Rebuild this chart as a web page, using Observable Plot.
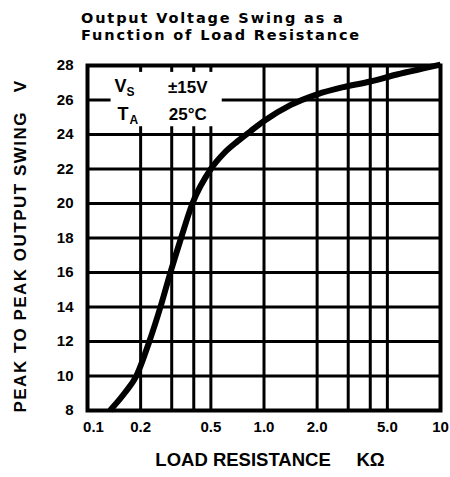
<!DOCTYPE html>
<html>
<head>
<meta charset="utf-8">
<script src="https://cdn.jsdelivr.net/npm/d3@7"></script>
<script src="https://cdn.jsdelivr.net/npm/@observablehq/plot@0.6"></script>
<style>
  html, body { margin: 0; padding: 0; background: #fff; width: 450px; height: 477px; overflow: hidden; }
  #title { height: 45px; box-sizing: border-box; padding: 10px 0 0 81px; font-family: "DejaVu Sans", sans-serif; font-weight: bold; font-size: 14.5px; line-height: 16.8px; color: #000; letter-spacing: 1.85px; white-space: nowrap; }
  #chart svg text { white-space: pre; }
  #chart svg text[transform*="rotate"] { letter-spacing: 1.5px; }
</style>
</head>
<body>
<div id="title">Output Voltage Swing as a<br>Function of Load Resistance</div>
<div id="chart"></div>
<script>
// Curve: load resistance (kΩ) vs peak-to-peak output swing (V)
const loadResistance = [0.134, 0.162, 0.189, 0.224, 0.259, 0.295, 0.339, 0.393, 0.5, 0.595, 0.707, 0.841, 1.0,   1.41, 2.0,   2.83,  4.0,   5.66,  8.0,   10];
const outputSwing    = [8,     9,     10,    12,    14,    16,    18,    20,    22,  22.93, 23.6,  24.2,  24.78, 25.7, 26.33, 26.75, 27.07, 27.48, 27.83, 28.05];

// Axes / grid
const xTickValues = [0.1, 0.2, 0.5, 1, 2, 5, 10];
const xTickLabels = ["0.1", "0.2", "0.5", "1.0", "2.0", "5.0", "10"];
const xGridValues = [0.2, 0.3, 0.4, 0.5, 1, 2, 3, 4, 5];
const yTickValues = [8, 10, 12, 14, 16, 18, 20, 22, 24, 26, 28];
const yGridValues = [10, 12, 14, 16, 18, 20, 22, 24, 26];
const xTitle = "LOAD RESISTANCE\u00a0\u00a0\u00a0\u00a0\u00a0KΩ";
const yTitle = "PEAK TO PEAK OUTPUT SWING\u00a0\u00a0\u00a0V";

// Annotation (test conditions)
const noteMask = [{x1: 0.136, x2: 0.58, y1: 24.45, y2: 27.6}];
const noteMain = [{x: 0.142, y: 26.8, t: "V"}, {x: 0.148, y: 25.2, t: "T"}];
const noteSub  = [{x: 0.142, y: 26.8, t: "S"}, {x: 0.148, y: 25.2, t: "A"}];
const noteVals = [{x: 0.37, y: 26.7, t: "±15V"}, {x: 0.37, y: 25.15, t: "25°C"}];

const curve = loadResistance.map((r, i) => ({r, v: outputSwing[i]}));
const xTicks = xTickValues.map((v, i) => ({v, t: xTickLabels[i]}));
const F = "Liberation Sans, Arial, sans-serif";
const tickStyle = {fontSize: 15, fontWeight: "bold", fill: "#000"};

const chart = Plot.plot({
  width: 450,
  height: 432,
  marginTop: 20,
  marginBottom: 67,
  marginLeft: 87,
  marginRight: 10,
  style: {fontFamily: F, fontWeight: "bold", fontSize: "15px", color: "#000", background: "#fff"},
  x: {type: "log", domain: [0.1, 10], axis: null},
  y: {domain: [8, 28], axis: null},
  marks: [
    Plot.ruleX(xGridValues, {stroke: "#000", strokeWidth: 3}),
    Plot.ruleY(yGridValues, {stroke: "#000", strokeWidth: 3}),
    Plot.rect(noteMask, {x1: "x1", x2: "x2", y1: "y1", y2: "y2", fill: "#fff"}),
    Plot.frame({stroke: "#000", strokeWidth: 4}),
    Plot.line(curve, {x: "r", y: "v", stroke: "#000", strokeWidth: 6, curve: "monotone-x", strokeLinecap: "butt"}),
    Plot.text(noteMain, {x: "x", y: "y", text: "t", textAnchor: "start", fontSize: 18, fontWeight: "bold", fill: "#000"}),
    Plot.text(noteSub, {x: "x", y: "y", text: "t", textAnchor: "start", dx: 12, dy: 6, fontSize: 12, fontWeight: "bold", fill: "#000"}),
    Plot.text(noteVals, {x: "x", y: "y", text: "t", textAnchor: "middle", fontSize: 17, fontWeight: "bold", fill: "#000"}),
    // y tick labels
    Plot.text(yTickValues, {y: (d) => d, frameAnchor: "left", textAnchor: "end", dx: -14, text: (d) => String(d), ...tickStyle}),
    // x tick labels (first one nudged right, as in the original)
    Plot.text(xTicks.slice(0, 1), {x: "v", frameAnchor: "bottom", textAnchor: "middle", lineAnchor: "middle", dy: 17, dx: 6, text: "t", ...tickStyle}),
    Plot.text(xTicks.slice(1), {x: "v", frameAnchor: "bottom", textAnchor: "middle", lineAnchor: "middle", dy: 17, text: "t", ...tickStyle}),
    // axis titles
    Plot.text([xTitle], {frameAnchor: "bottom", textAnchor: "middle", lineAnchor: "middle", dy: 50, dx: 6, text: (d) => d, fontSize: 18.5, fontWeight: "bold", fill: "#000"}),
    Plot.text([yTitle], {frameAnchor: "left", textAnchor: "middle", lineAnchor: "middle", rotate: -90, dx: -67, dy: 8, text: (d) => d, fontSize: 17, fontWeight: "bold", fill: "#000"})
  ]
});
document.getElementById("chart").appendChild(chart);
</script>
</body>
</html>
